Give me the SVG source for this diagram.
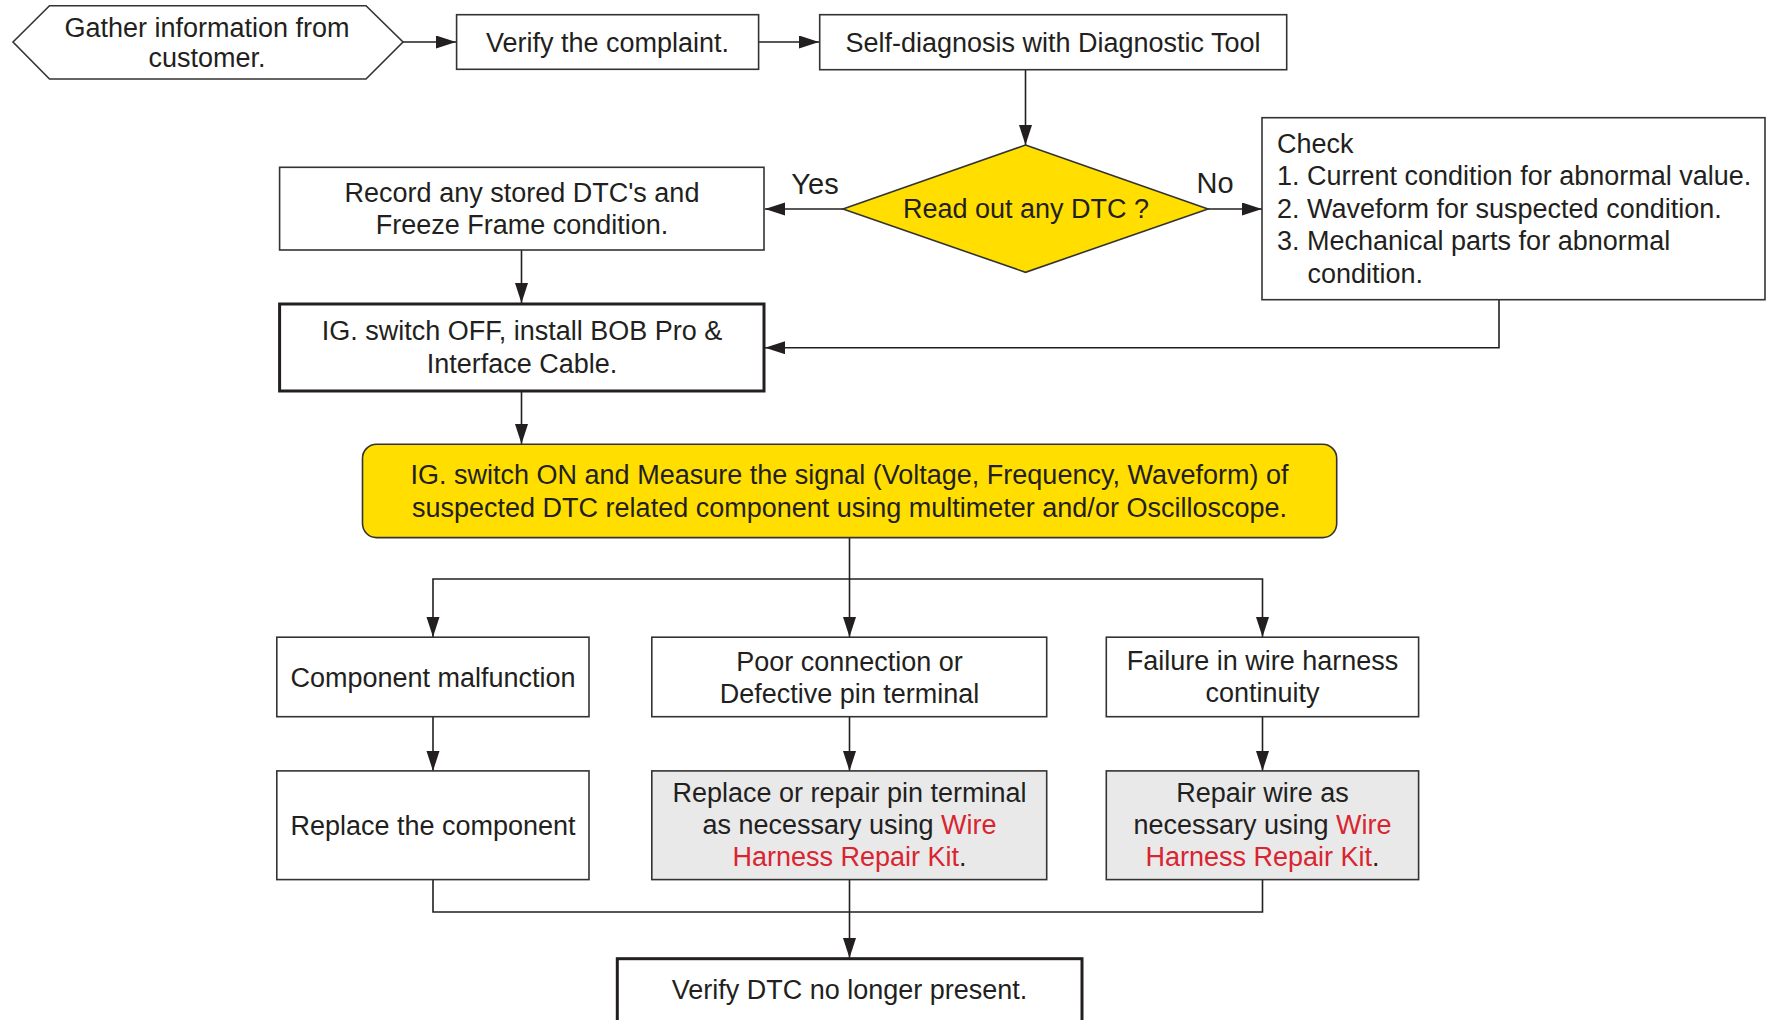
<svg xmlns="http://www.w3.org/2000/svg" width="1767" height="1020" viewBox="0 0 1767 1020">
<defs>
<marker id="ah" markerUnits="userSpaceOnUse" markerWidth="20" markerHeight="14" refX="20" refY="6.5" orient="auto">
<path d="M0,0 L20,6.5 L0,13 z" fill="#231f20"/>
</marker>
<style>
.box{fill:#fff;stroke:#333;stroke-width:1.6}
.thick{fill:#fff;stroke:#231f20;stroke-width:3}
.gray{fill:#e9e9e9;stroke:#333;stroke-width:1.6}
.yel{fill:#ffde00;stroke:#333;stroke-width:1.6}
.conn{fill:none;stroke:#231f20;stroke-width:1.6}
text{font-family:"Liberation Sans",Arial,sans-serif;font-size:27px;fill:#231f20}
.c{text-anchor:middle}
.lbl{font-size:29px}
.red{fill:#d92530}
</style>
</defs>
<rect width="1767" height="1020" fill="#fff"/>
<g id="connectors">
<path class="conn" d="M403,42 H456" marker-end="url(#ah)"/>
<path class="conn" d="M758.5,42 H819" marker-end="url(#ah)"/>
<path class="conn" d="M1025.5,69.7 V145" marker-end="url(#ah)"/>
<path class="conn" d="M843,209 H765" marker-end="url(#ah)"/>
<path class="conn" d="M1208,209 H1262" marker-end="url(#ah)"/>
<path class="conn" d="M1499,299.7 V347.7 H765" marker-end="url(#ah)"/>
<path class="conn" d="M521.5,250 V303" marker-end="url(#ah)"/>
<path class="conn" d="M521.5,392 V444" marker-end="url(#ah)"/>
<path class="conn" d="M849.5,537.6 V637" marker-end="url(#ah)"/>
<path class="conn" d="M849.5,579 H433 V637" marker-end="url(#ah)"/>
<path class="conn" d="M849.5,579 H1262.5 V637" marker-end="url(#ah)"/>
<path class="conn" d="M433,717 V771" marker-end="url(#ah)"/>
<path class="conn" d="M849.5,717 V771" marker-end="url(#ah)"/>
<path class="conn" d="M1262.5,717 V771" marker-end="url(#ah)"/>
<path class="conn" d="M433,879.6 V912 H1262.5 V879.6"/>
<path class="conn" d="M849.5,879.6 V958" marker-end="url(#ah)"/>
<text class="c lbl" x="815" y="194">Yes</text>
<text class="c lbl" x="1215" y="193">No</text>
</g>
<g id="gather">
<polygon class="box" points="13,42 49.5,5.7 366,5.7 403,42 366,79 49.5,79"/>
<text class="c" x="207" y="36.5">Gather information from</text>
<text class="c" x="207" y="67">customer.</text>
</g>
<g id="verify">
<rect class="box" x="456.6" y="14.7" width="302" height="54.6"/>
<text class="c" x="607.5" y="51.5">Verify the complaint.</text>
</g>
<g id="selfdiag">
<rect class="box" x="819.7" y="14.7" width="467" height="55"/>
<text class="c" x="1053" y="51.5">Self-diagnosis with Diagnostic Tool</text>
</g>
<g id="decision">
<polygon class="yel" points="1025.5,145 1208,209 1025.5,272.3 843,209"/>
<text class="c" x="1026" y="218">Read out any DTC ?</text>
</g>
<g id="check">
<rect class="box" x="1262" y="117.7" width="503" height="182"/>
<text x="1277" y="152.7">Check</text>
<text x="1277" y="185.2">1. Current condition for abnormal value.</text>
<text x="1277" y="217.7">2. Waveform for suspected condition.</text>
<text x="1277" y="250.2">3. Mechanical parts for abnormal</text>
<text x="1307.5" y="282.7">condition.</text>
</g>
<g id="record">
<rect class="box" x="279.6" y="167.3" width="484.4" height="82.7"/>
<text class="c" x="522" y="201.5">Record any stored DTC's and</text>
<text class="c" x="522" y="234">Freeze Frame condition.</text>
</g>
<g id="igoff">
<rect class="thick" x="279.6" y="304" width="484.4" height="87"/>
<text class="c" x="522" y="340">IG. switch OFF, install BOB Pro &amp;</text>
<text class="c" x="522" y="372.7">Interface Cable.</text>
</g>
<g id="measure">
<rect class="yel" x="362.5" y="444.3" width="974.2" height="93.3" rx="14" ry="14"/>
<text class="c" x="849.5" y="484">IG. switch ON and Measure the signal (Voltage, Frequency, Waveform) of</text>
<text class="c" x="849.5" y="516.6">suspected DTC related component using multimeter and/or Oscilloscope.</text>
</g>
<g id="malfunction">
<rect class="box" x="276.8" y="637.2" width="312.2" height="79.5"/>
<text class="c" x="433" y="686.5">Component malfunction</text>
</g>
<g id="poorconn">
<rect class="box" x="651.8" y="637.2" width="394.9" height="79.5"/>
<text class="c" x="849.5" y="670.7">Poor connection or</text>
<text class="c" x="849.5" y="702.5">Defective pin terminal</text>
</g>
<g id="harnessfail">
<rect class="box" x="1106.3" y="637.2" width="312.3" height="79.5"/>
<text class="c" x="1262.5" y="670.3">Failure in wire harness</text>
<text class="c" x="1262.5" y="702">continuity</text>
</g>
<g id="replacecomp">
<rect class="box" x="276.8" y="770.9" width="312.2" height="108.7"/>
<text class="c" x="433" y="834.7">Replace the component</text>
</g>
<g id="repairpin">
<rect class="gray" x="651.8" y="770.9" width="394.9" height="108.7"/>
<text class="c" x="849.5" y="801.5">Replace or repair pin terminal</text>
<text class="c" x="849.5" y="834">as necessary using <tspan class="red">Wire</tspan></text>
<text class="c" x="849.5" y="866"><tspan class="red">Harness Repair Kit</tspan>.</text>
</g>
<g id="repairwire">
<rect class="gray" x="1106.3" y="770.9" width="312.3" height="108.7"/>
<text class="c" x="1262.5" y="801.5">Repair wire as</text>
<text class="c" x="1262.5" y="834">necessary using <tspan class="red">Wire</tspan></text>
<text class="c" x="1262.5" y="866"><tspan class="red">Harness Repair Kit</tspan>.</text>
</g>
<g id="verifydtc">
<rect class="thick" x="617.3" y="958.7" width="464.7" height="80"/>
<text class="c" x="849.5" y="999">Verify DTC no longer present.</text>
</g>
</svg>
